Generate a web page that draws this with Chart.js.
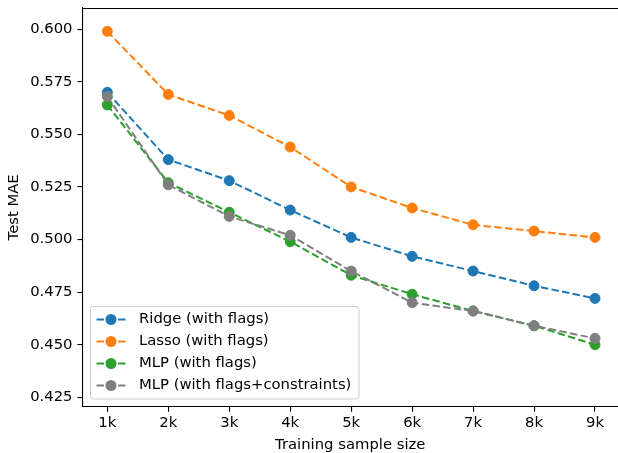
<!DOCTYPE html>
<html>
<head>
<meta charset="utf-8">
<script src="https://cdn.jsdelivr.net/npm/chart.js@4"></script>
<style>
html,body{margin:0;padding:0;background:#fff;overflow:hidden;}
#wrap{width:618px;height:453px;}
</style>
</head>
<body>
<div id="wrap"><canvas id="c" width="618" height="453"></canvas></div>
<script>
const sizes = [1, 2, 3, 4, 5, 6, 7, 8, 9];
const sizeLabels = ['1k', '2k', '3k', '4k', '5k', '6k', '7k', '8k', '9k'];
const ridge = [0.570, 0.538, 0.528, 0.514, 0.501, 0.492, 0.485, 0.478, 0.472];
const lasso = [0.599, 0.569, 0.559, 0.544, 0.525, 0.515, 0.507, 0.504, 0.501];
const mlp = [0.564, 0.527, 0.513, 0.499, 0.483, 0.474, 0.466, 0.459, 0.450];
const mlpConstr = [0.568, 0.526, 0.511, 0.502, 0.485, 0.470, 0.466, 0.459, 0.453];
const yTicks = [0.425, 0.450, 0.475, 0.500, 0.525, 0.550, 0.575, 0.600];
const seriesNames = ['Ridge (with flags)', 'Lasso (with flags)', 'MLP (with flags)', 'MLP (with flags+constraints)'];
const seriesColors = ['#1f77b4', '#ff7f0e', '#2ca02c', '#7f7f7f'];
const seriesValues = [ridge, lasso, mlp, mlpConstr];

const FONT = 'DejaVu Sans';
const FS = 14.8;
const DASH = [7.5, 3.3];

const datasets = seriesValues.map((vals, i) => ({
  label: seriesNames[i],
  data: sizes.map((s, j) => ({x: s, y: vals[j]})),
  borderColor: seriesColors[i],
  backgroundColor: seriesColors[i],
  borderWidth: 2,
  borderDash: DASH,
  pointRadius: 5,
  pointHoverRadius: 5,
  pointBorderWidth: 1,
  pointBorderColor: seriesColors[i],
  pointBackgroundColor: seriesColors[i],
  tension: 0,
  order: seriesValues.length - i
}));

const framePlugin = {
  id: 'frame',
  afterDraw(chart) {
    const ctx = chart.ctx, a = chart.chartArea;
    ctx.save();
    ctx.strokeStyle = '#000';
    ctx.lineWidth = 1.1;
    ctx.beginPath();
    ctx.moveTo(a.left, a.top + 0.5);
    ctx.lineTo(a.right + 2, a.top + 0.5);
    ctx.stroke();
    // legend
    const bx = 90.5, by = 306.5, bw = 268.5, bh = 92.5, r = 3;
    ctx.fillStyle = 'rgba(255,255,255,0.8)';
    ctx.strokeStyle = '#cccccc';
    ctx.lineWidth = 1;
    ctx.beginPath();
    ctx.moveTo(bx + r, by);
    ctx.lineTo(bx + bw - r, by);
    ctx.quadraticCurveTo(bx + bw, by, bx + bw, by + r);
    ctx.lineTo(bx + bw, by + bh - r);
    ctx.quadraticCurveTo(bx + bw, by + bh, bx + bw - r, by + bh);
    ctx.lineTo(bx + r, by + bh);
    ctx.quadraticCurveTo(bx, by + bh, bx, by + bh - r);
    ctx.lineTo(bx, by + r);
    ctx.quadraticCurveTo(bx, by, bx + r, by);
    ctx.closePath();
    ctx.fill();
    ctx.stroke();
    const rows = [319.5, 341.5, 363.5, 385.5];
    seriesNames.forEach((name, i) => {
      const y = rows[i];
      ctx.strokeStyle = seriesColors[i];
      ctx.lineWidth = 2;
      ctx.setLineDash(DASH);
      ctx.beginPath();
      ctx.moveTo(96.5, y);
      ctx.lineTo(125.5, y);
      ctx.stroke();
      ctx.setLineDash([]);
      ctx.fillStyle = seriesColors[i];
      ctx.beginPath();
      ctx.arc(111, y, 5.5, 0, Math.PI * 2);
      ctx.fill();
      ctx.fillStyle = '#000';
      ctx.font = FS + 'px "' + FONT + '"';
      ctx.textAlign = 'left';
      ctx.textBaseline = 'middle';
      ctx.fillText(name, 139, y);
    });
    ctx.restore();
  }
};

new Chart(document.getElementById('c'), {
  type: 'line',
  data: {datasets},
  options: {
    responsive: false,
    devicePixelRatio: 1,
    animation: false,
    events: [],
    layout: {padding: {top: 8, left: 0, right: 0, bottom: 0}, autoPadding: false},
    plugins: {legend: {display: false}, tooltip: {enabled: false}},
    scales: {
      x: {
        type: 'linear',
        min: 0.593,
        max: 9.377,
        afterBuildTicks(s) { s.ticks = sizes.map(v => ({value: v})); },
        afterFit(s) { s.height = 46.3; s.paddingLeft = 0; s.paddingRight = 0; },
        ticks: {
          color: '#000',
          font: {family: FONT, size: FS},
          padding: 3,
          maxRotation: 0,
          autoSkip: false,
          callback: (v) => { const k = sizes.indexOf(v); return k >= 0 ? sizeLabels[k] : ''; }
        },
        grid: {drawOnChartArea: false, drawTicks: true, tickLength: 5, color: '#000', lineWidth: 1.1},
        border: {display: true, color: '#000', width: 1.1},
        title: {display: true, text: 'Training sample size', color: '#000', font: {family: FONT, size: FS}, padding: {top: 0, bottom: -1}}
      },
      y: {
        min: 0.4205,
        max: 0.6101,
        afterBuildTicks(s) { s.ticks = yTicks.map(v => ({value: v})); },
        afterFit(s) { s.width = 82.5; s.paddingTop = 0; s.paddingBottom = 0; },
        ticks: {
          color: '#000',
          font: {family: FONT, size: FS},
          padding: 5,
          autoSkip: false,
          callback: (v) => Number(v).toFixed(3)
        },
        grid: {drawOnChartArea: false, drawTicks: true, tickLength: 5, color: '#000', lineWidth: 1.1},
        border: {display: true, color: '#000', width: 1.1},
        title: {display: true, text: 'Test MAE', color: '#000', font: {family: FONT, size: FS}, padding: {top: 5, bottom: 0}}
      }
    }
  },
  plugins: [framePlugin]
});
</script>
</body>
</html>
